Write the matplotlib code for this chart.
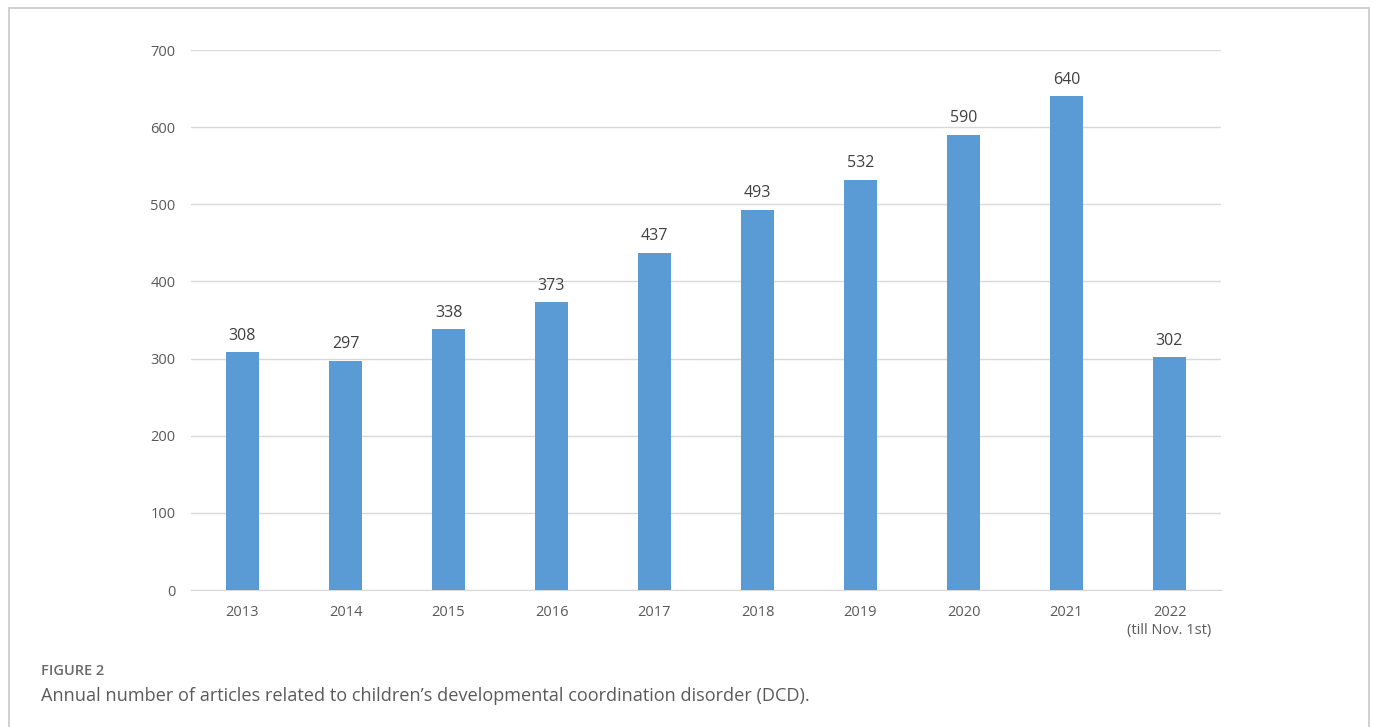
import matplotlib.pyplot as plt
from matplotlib.patches import Rectangle

years = ['2013', '2014', '2015', '2016', '2017', '2018', '2019', '2020', '2021', '2022\n(till Nov. 1st)']
articles = [308, 297, 338, 373, 437, 493, 532, 590, 640, 302]
yticks = [0, 100, 200, 300, 400, 500, 600, 700]

bar_color = '#5b9bd5'
text_color = '#595959'
grid_color = '#d9d9d9'

plt.rcParams['font.family'] = ['Open Sans', 'DejaVu Sans']

fig = plt.figure(figsize=(13.75, 7.27), dpi=100)

# light frame around the whole figure panel
fig.patches.append(Rectangle((9 / 1375, -0.05), 1360 / 1375, 1.05 - 8 / 727,
                             transform=fig.transFigure, fill=False,
                             edgecolor='#c8c8c8', linewidth=1.2))

ax = fig.add_axes([191 / 1375, 1 - 590 / 727, 1030 / 1375, 540 / 727])
x = range(len(years))
bars = ax.bar(x, articles, width=0.32, color=bar_color, zorder=3)

for b, v in zip(bars, articles):
    ax.text(b.get_x() + b.get_width() / 2, v + 11, str(v), ha='center', va='bottom',
            fontsize=11.5, color='#404040')

ax.set_xlim(-0.5, len(years) - 0.5)
ax.set_ylim(0, 700)
ax.set_yticks(yticks)
ax.set_xticks(list(x))
ax.set_xticklabels(years, linespacing=1.3)
ax.tick_params(axis='both', length=0, labelsize=10.5, labelcolor=text_color)
ax.tick_params(axis='y', pad=11)
ax.tick_params(axis='x', pad=10.5)
ax.grid(axis='y', color=grid_color, linewidth=1, zorder=0)
for s in ['top', 'right', 'left']:
    ax.spines[s].set_visible(False)
ax.spines['bottom'].set_color(grid_color)

fig.text(41 / 1375, 1 - 671 / 727, 'FIGURE 2', fontsize=10.5, color='#6a6a6a',
         fontweight='semibold', va='center')
fig.text(41 / 1375, 1 - 696 / 727,
         'Annual number of articles related to children\u2019s developmental coordination disorder (DCD).',
         fontsize=13.1, color='#5a5a5a', va='center')

fig.savefig('out.png', dpi=100)
